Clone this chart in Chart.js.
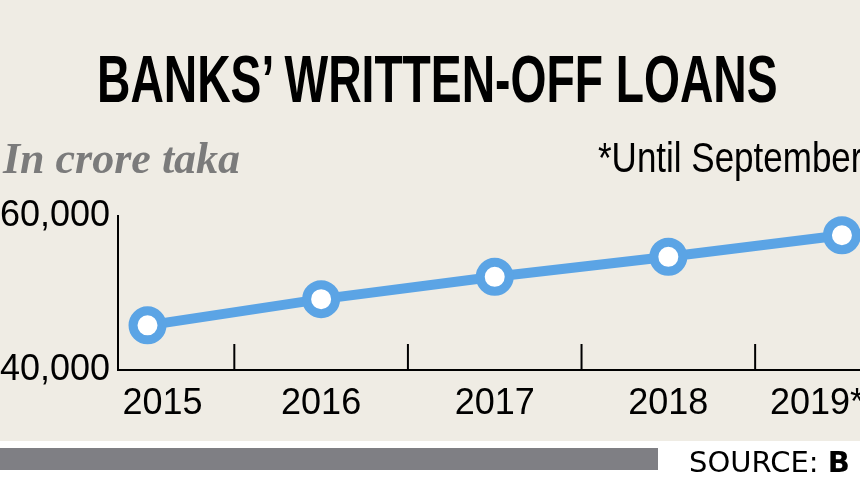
<!DOCTYPE html>
<html>
<head>
<meta charset="utf-8">
<script src="https://cdn.jsdelivr.net/npm/chart.js@4"></script>
<style>
body { margin: 0; background: #fff; }
#wrap { position: relative; width: 860px; height: 484px; overflow: hidden; background: #fff; }
#beige { position: absolute; left: 0; top: 0; width: 860px; height: 441px; background: #efece4; }
#bar { position: absolute; left: 0; top: 448px; width: 658px; height: 22px; background: #7f7f84; }
#chart { position: absolute; left: 0; top: 0; }
.txt { position: absolute; white-space: nowrap; line-height: 1; transform-origin: 0 0; }
#title { left: 97px; top: 40px; font: bold 67px "Liberation Sans", Arial, sans-serif; color: #000; transform: scaleX(0.69); }
#unit { left: 3px; top: 133px; font: italic bold 44px "Liberation Serif", serif; color: #7b7b7b; }
#note { left: 598px; top: 134px; font: 42px "Liberation Sans", Arial, sans-serif; color: #000; transform: scaleX(0.833); }
#source { left: 689px; top: 445px; font: 29px "DejaVu Sans", sans-serif; color: #000; }
</style>
</head>
<body>
<div id="wrap">
  <div id="beige"></div>
  <div id="bar"></div>
  <canvas id="chart" width="860" height="484"></canvas>
  <div class="txt" id="title">BANKS’ WRITTEN-OFF LOANS</div>
  <div class="txt" id="unit">In crore taka</div>
  <div class="txt" id="note">*Until September</div>
  <div class="txt" id="source">SOURCE: <b>B</b></div>
</div>
<script>
const years = [2015, 2016, 2017, 2018, 2019]
const yearLabels = ['2015', '2016', '2017', '2018', '2019*']
const loans = [45800, 49200, 52100, 54700, 57500]
const yTicks = [40000, 60000]

const blue = '#5ba4e5'
const axisFont = { family: '"Liberation Sans", Arial, sans-serif', size: 36 }

// short marks between the years, standing up from the x axis
const midTicks = {
    id: 'midTicks',
    beforeDatasetsDraw(chart) {
        const x = chart.scales.x
        const area = chart.chartArea
        const ctx = chart.ctx
        ctx.save()
        ctx.strokeStyle = '#000'
        ctx.lineWidth = 2
        for (var i = 1; i < years.length; i++) {
            const px = x.getPixelForValue((years[i - 1] + years[i]) / 2)
            ctx.beginPath()
            ctx.moveTo(px, area.bottom)
            ctx.lineTo(px, area.bottom - 26)
            ctx.stroke()
        }
        ctx.restore()
    }
}

// first label sits a bit right of its point, last one pulled in from the edge
function yearLabel(v, i) {
    if (i == 0) return '   ' + yearLabels[i]
    if (i == yearLabels.length - 1) return yearLabels[i] + '     '
    return yearLabels[i]
}

new Chart(document.getElementById('chart'), {
    type: 'line',
    data: {
        datasets: [{
            data: years.map((y, i) => ({ x: y, y: loans[i] })),
            borderColor: blue,
            borderWidth: 10,
            pointRadius: 14.5,
            pointBorderWidth: 9,
            pointBackgroundColor: '#fff',
            pointBorderColor: blue,
            clip: false
        }]
    },
    options: {
        responsive: false,
        animation: false,
        layout: { autoPadding: false, padding: { top: 216, bottom: 0, left: 0, right: 0 } },
        plugins: { legend: { display: false }, tooltip: { enabled: false } },
        scales: {
            x: {
                type: 'linear',
                min: 2014.83,
                max: 2019.104,
                border: { color: '#000', width: 2 },
                grid: { drawOnChartArea: false, drawTicks: false },
                afterBuildTicks: s => { s.ticks = years.map(v => ({ value: v })) },
                afterFit: s => { s.height = 114; s.paddingLeft = 0; s.paddingRight = 0 },
                ticks: {
                    autoSkip: false,
                    maxRotation: 0,
                    padding: 12,
                    color: '#000',
                    font: axisFont,
                    callback: yearLabel
                }
            },
            y: {
                min: 40000,
                max: 60000,
                border: { color: '#000', width: 2 },
                grid: { drawOnChartArea: false, drawTicks: false },
                afterBuildTicks: s => { s.ticks = yTicks.map(v => ({ value: v })) },
                afterFit: s => { s.width = 118; s.paddingTop = 0; s.paddingBottom = 0 },
                ticks: {
                    padding: 8,
                    color: '#000',
                    font: axisFont,
                    callback: v => v.toLocaleString('en-US')
                }
            }
        }
    },
    plugins: [midTicks]
})
</script>
</body>
</html>
